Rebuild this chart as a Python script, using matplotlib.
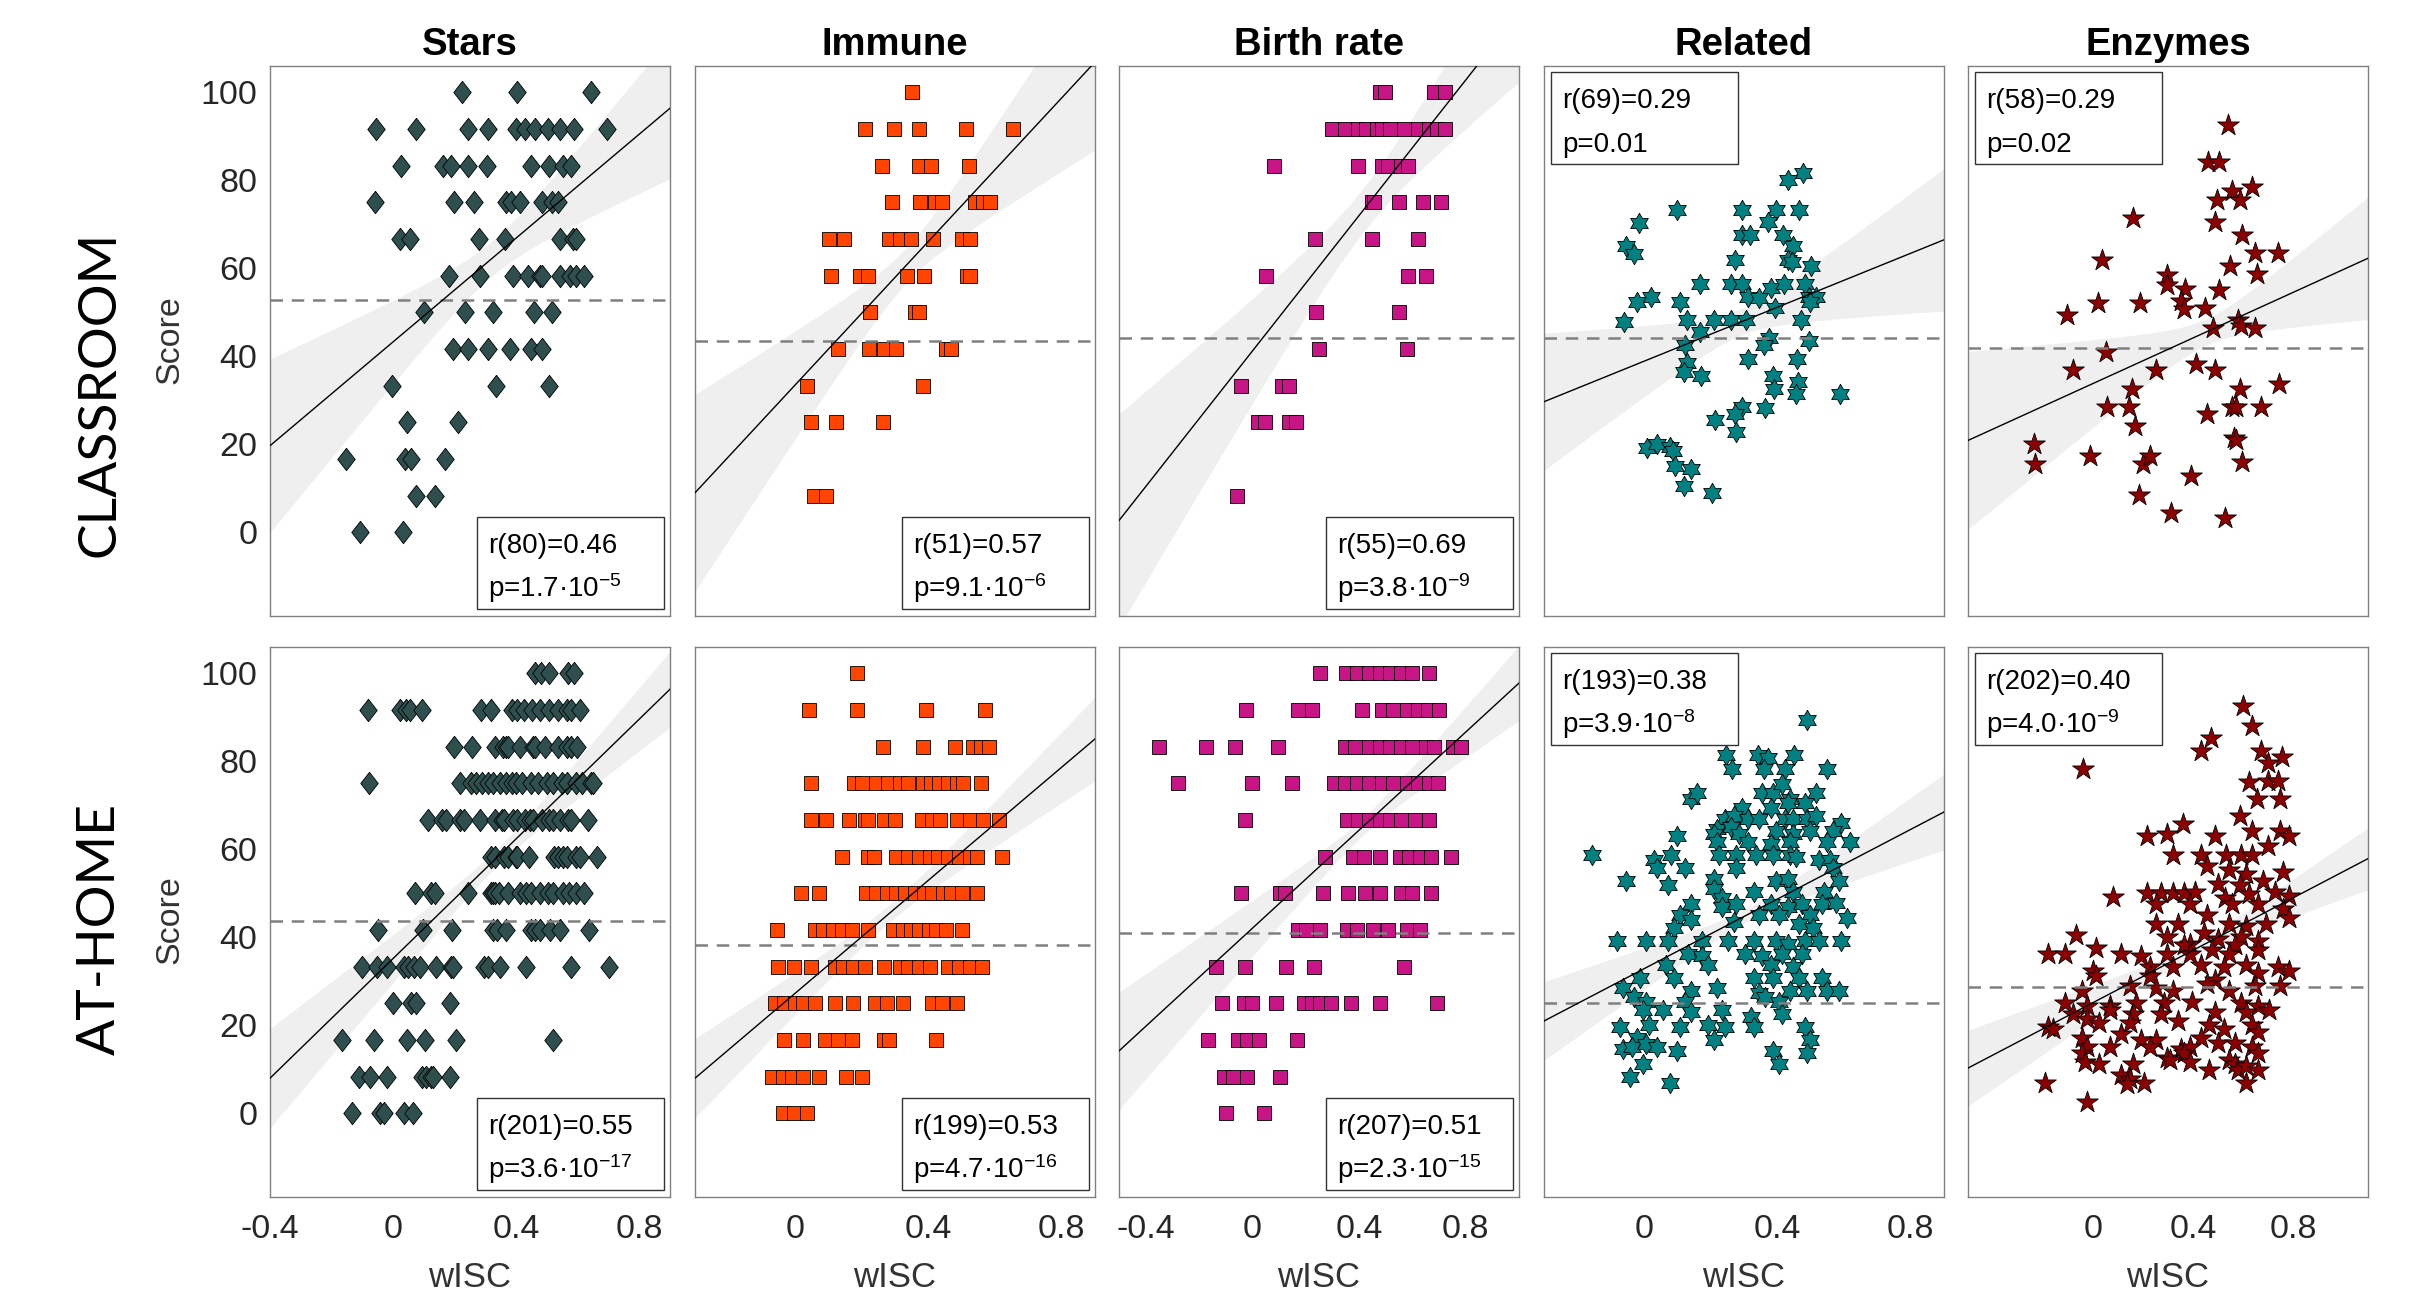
import numpy as np
import matplotlib.pyplot as plt
from matplotlib.patches import Rectangle

plt.rcParams["font.family"] = ["Liberation Sans", "DejaVu Sans"]
plt.rcParams["mathtext.default"] = "regular"

# ------------------------------------------------
# Labels / layout data
# ------------------------------------------------

titles = ["Stars", "Immune", "Birth rate", "Related", "Enzymes"]
row_names = ["CLASSROOM", "AT-HOME"]
colors = ["#2F4F4F", "#FF4500", "#C71585", "#008080", "#8B0000"]

xlims = [(-0.4, 0.9), (-0.3, 0.9), (-0.5, 1.0), (-0.3, 0.9), (-0.5, 1.1)]
xticks = [[-0.4, 0, 0.4, 0.8], [0, 0.4, 0.8], [-0.4, 0, 0.4, 0.8],
          [0, 0.4, 0.8], [0, 0.4, 0.8]]

# score levels used by the quantised tasks
levels = [100, 91.7, 83.3, 75, 66.7, 58.3, 50, 41.7, 33.3, 25, 16.7, 8.3, 0]

# ------------------------------------------------
# Classroom data
# ------------------------------------------------

stars_cls = [
    [0.223, 0.404, 0.643],
    [-0.055, 0.074, 0.245, 0.310, 0.401, 0.430, 0.462, 0.503, 0.543, 0.588, 0.694],
    [0.025, 0.162, 0.187, 0.245, 0.306, 0.448, 0.506, 0.552, 0.578],
    [-0.059, 0.197, 0.262, 0.368, 0.383, 0.412, 0.484, 0.517, 0.535],
    [0.023, 0.054, 0.278, 0.365, 0.542, 0.586, 0.593],
    [0.183, 0.284, 0.39, 0.438, 0.477, 0.484, 0.542, 0.575, 0.593, 0.622],
    [0.1, 0.235, 0.325, 0.459, 0.517],
    [0.194, 0.242, 0.307, 0.38, 0.448, 0.484],
    [-0.004, 0.335, 0.506],
    [0.045, 0.212],
    [-0.154, 0.039, 0.059, 0.168],
    [0.074, 0.136],
    [-0.107, 0.032],
]

immune_cls = [
    [0.351],
    [0.21, 0.296, 0.372, 0.512, 0.653],
    [0.262, 0.372, 0.407, 0.522],
    [0.292, 0.376, 0.42, 0.441, 0.541, 0.565, 0.586],
    [0.102, 0.147, 0.283, 0.315, 0.347, 0.415, 0.501, 0.525],
    [0.108, 0.194, 0.218, 0.336, 0.388, 0.517, 0.525],
    [0.225, 0.359, 0.372],
    [0.129, 0.223, 0.267, 0.302, 0.452, 0.468],
    [0.036, 0.384],
    [0.048, 0.123, 0.263],
    [],
    [0.058, 0.094],
    [],
]

birth_cls = [
    [0.478, 0.498, 0.681, 0.722],
    [0.299, 0.346, 0.396, 0.427, 0.467, 0.488, 0.518, 0.569, 0.62, 0.661, 0.691, 0.722],
    [0.081, 0.396, 0.488, 0.508, 0.559, 0.585],
    [0.447, 0.457, 0.549, 0.64, 0.707],
    [0.234, 0.447, 0.62],
    [0.051, 0.583, 0.65],
    [0.24, 0.551],
    [0.25, 0.579],
    [-0.043, 0.112, 0.136],
    [0.02, 0.047, 0.136, 0.163],
    [],
    [-0.059],
    [],
]

related_cls_x = [0.478, 0.431, 0.099, 0.294, 0.397, 0.465, -0.015, 0.371, 0.294, 0.317,
                 0.417, -0.054, -0.029, 0.448, 0.431, 0.444, 0.272, 0.502, 0.167, 0.26,
                 0.294, 0.380, 0.419, 0.482, 0.022, -0.02, 0.107, 0.311, 0.346, 0.495,
                 0.516, 0.499, 0.393, -0.06, 0.129, 0.209, 0.26, 0.306, 0.470, 0.169,
                 0.124, 0.374, 0.359, 0.495, 0.311, 0.46, 0.129, 0.121, 0.172, 0.388,
                 0.461, 0.391, 0.456, 0.589, 0.294, 0.363, 0.274, 0.213, 0.277, 0.009,
                 0.039, 0.077, 0.087, 0.094, 0.141, 0.121, 0.204]
related_cls_y = [81.6, 80.0, 73.2, 73.2, 73.2, 73.2, 70.3, 70.5, 67.7, 67.5,
                 67.7, 65.0, 63.2, 65.0, 62.0, 61.4, 61.8, 60.5, 56.4, 56.4,
                 56.4, 55.5, 56.4, 56.4, 53.6, 52.3, 52.3, 53.6, 53.2, 53.6,
                 53.6, 52.3, 50.9, 47.9, 48.2, 48.2, 48.2, 48.2, 48.2, 45.5,
                 42.7, 44.1, 42.7, 43.6, 39.5, 39.5, 38.6, 36.4, 35.5, 35.5,
                 34.1, 32.7, 31.4, 31.4, 28.6, 28.2, 26.8, 25.6, 22.9, 19.1,
                 20.0, 19.5, 18.4, 15.0, 14.5, 10.5, 8.9]

enzymes_cls_x = [0.540, 0.458, 0.504, 0.556, 0.636, 0.495, 0.586, 0.159, 0.488, 0.595,
                 0.647, 0.738, 0.034, 0.549, 0.654, 0.295, 0.295, 0.368, 0.504, 0.018,
                 0.186, -0.104, 0.352, 0.363, 0.449, 0.579, 0.590, 0.481, 0.647, 0.05,
                 -0.079, 0.25, 0.413, 0.488, 0.154, 0.586, 0.742, 0.057, 0.143, 0.166,
                 0.454, 0.556, 0.572, 0.670, 0.563, 0.572, -0.238, -0.232, -0.011, 0.2,
                 0.227, 0.595, 0.39, 0.182, 0.311, 0.529]
enzymes_cls_y = [92.5, 84.1, 84.1, 77.5, 78.6, 75.6, 75.6, 71.4, 70.5, 67.5,
                 63.5, 63.5, 61.8, 60.5, 58.8, 58.6, 56.2, 55.3, 55.0, 52.1,
                 52.1, 49.3, 52.7, 50.7, 50.9, 48.2, 46.8, 46.5, 46.5, 40.9,
                 36.8, 36.8, 38.2, 36.8, 32.7, 32.7, 33.8, 28.4, 28.4, 24.1,
                 26.8, 28.4, 28.4, 28.4, 21.5, 21.1, 20.0, 15.6, 17.3, 15.6,
                 17.3, 15.9, 12.9, 8.6, 4.5, 3.2]

# ------------------------------------------------
# At-home data
# ------------------------------------------------

stars_home = [
    [0.462, 0.481, 0.506, 0.567, 0.588],
    [-0.08, 0.023, 0.042, 0.054, 0.093, 0.286, 0.317, 0.387, 0.404, 0.426, 0.451, 0.477,
     0.506, 0.535, 0.564, 0.578, 0.607],
    [0.199, 0.257, 0.332, 0.358, 0.368, 0.375, 0.412, 0.455, 0.462, 0.494, 0.535, 0.564,
     0.578, 0.597],
    [-0.077, 0.216, 0.252, 0.271, 0.288, 0.31, 0.325, 0.346, 0.368, 0.387, 0.401, 0.419,
     0.448, 0.47, 0.499, 0.52, 0.549, 0.564, 0.593, 0.614, 0.643, 0.651],
    [0.112, 0.158, 0.172, 0.216, 0.23, 0.281, 0.332, 0.354, 0.361, 0.39, 0.404, 0.43,
     0.445, 0.455, 0.484, 0.506, 0.52, 0.542, 0.567, 0.578, 0.633],
    [0.317, 0.332, 0.361, 0.375, 0.4, 0.404, 0.441, 0.523, 0.535, 0.552, 0.564, 0.593,
     0.607, 0.662],
    [0.071, 0.122, 0.136, 0.245, 0.317, 0.325, 0.332, 0.343, 0.375, 0.412, 0.433, 0.448,
     0.477, 0.503, 0.52, 0.552, 0.571, 0.596, 0.622],
    [-0.048, 0.096, 0.19, 0.325, 0.339, 0.368, 0.448, 0.462, 0.477, 0.509, 0.542, 0.636],
    [-0.1, -0.052, -0.019, 0.035, 0.049, 0.068, 0.086, 0.141, 0.187, 0.194, 0.296, 0.307,
     0.346, 0.433, 0.578, 0.701],
    [-0.001, 0.059, 0.074, 0.184],
    [-0.165, -0.062, 0.045, 0.103, 0.204, 0.52],
    [-0.11, -0.074, -0.019, 0.093, 0.107, 0.122, 0.129, 0.184],
    [-0.135, -0.042, -0.028, 0.035, 0.064],
]

immune_home = [
    [0.186],
    [0.042, 0.186, 0.393, 0.57],
    [0.265, 0.383, 0.481, 0.533, 0.557, 0.582],
    [0.048, 0.178, 0.202, 0.242, 0.278, 0.315, 0.339, 0.384, 0.407, 0.433, 0.46, 0.485,
     0.504, 0.557],
    [0.048, 0.094, 0.162, 0.21, 0.218, 0.267, 0.299, 0.38, 0.412, 0.436, 0.485, 0.525,
     0.565, 0.611],
    [0.141, 0.218, 0.237, 0.304, 0.339, 0.372, 0.404, 0.428, 0.46, 0.493, 0.525, 0.546,
     0.622],
    [0.019, 0.073, 0.213, 0.242, 0.275, 0.304, 0.331, 0.359, 0.388, 0.412, 0.444, 0.468,
     0.501, 0.546],
    [-0.053, 0.06, 0.084, 0.113, 0.142, 0.17, 0.218, 0.294, 0.323, 0.347, 0.372, 0.401,
     0.423, 0.452, 0.501],
    [-0.052, -0.003, 0.048, 0.121, 0.145, 0.174, 0.21, 0.267, 0.315, 0.339, 0.372, 0.404,
     0.46, 0.493, 0.525, 0.562],
    [-0.061, -0.032, 0.0, 0.024, 0.061, 0.121, 0.174, 0.239, 0.275, 0.323, 0.412, 0.441,
     0.485],
    [-0.032, 0.024, 0.089, 0.129, 0.17, 0.267, 0.283, 0.423],
    [-0.068, -0.036, -0.008, 0.024, 0.073, 0.153, 0.202],
    [-0.037, -0.003, 0.037],
]

birth_home = [
    [0.254, 0.352, 0.392, 0.437, 0.478, 0.518, 0.559, 0.6, 0.661],
    [-0.024, 0.173, 0.224, 0.413, 0.488, 0.528, 0.579, 0.62, 0.657, 0.701],
    [-0.35, -0.173, -0.065, 0.096, 0.346, 0.386, 0.437, 0.478, 0.518, 0.559, 0.6, 0.65,
     0.681, 0.752, 0.783],
    [-0.278, 0.0, 0.148, 0.305, 0.346, 0.392, 0.437, 0.488, 0.528, 0.579, 0.62, 0.661,
     0.697],
    [-0.026, 0.356, 0.396, 0.437, 0.478, 0.518, 0.559, 0.61, 0.661],
    [0.274, 0.376, 0.417, 0.478, 0.555, 0.589, 0.63, 0.671, 0.746],
    [-0.041, 0.102, 0.122, 0.264, 0.36, 0.421, 0.478, 0.559, 0.6, 0.671],
    [0.173, 0.203, 0.254, 0.356, 0.392, 0.453, 0.508, 0.579, 0.63],
    [-0.136, -0.026, 0.128, 0.23, 0.569],
    [-0.112, -0.03, 0.0, 0.087, 0.193, 0.224, 0.254, 0.295, 0.37, 0.478, 0.691],
    [-0.167, -0.055, -0.02, 0.026, 0.167],
    [-0.106, -0.071, -0.02, 0.102],
    [-0.098, 0.045],
]

related_home_x = [0.49, 0.247, 0.264, 0.342, 0.371, 0.359, 0.451, 0.422, 0.55, 0.141,
                  0.158, 0.354, 0.388, 0.414, 0.516, 0.439, 0.294, 0.38, 0.431, 0.482,
                  0.243, 0.269, 0.311, 0.346, 0.422, 0.448, 0.49, 0.516, 0.592, 0.218,
                  0.26, 0.209, 0.286, 0.397, 0.448, 0.499, 0.567, 0.099, 0.618, 0.218,
                  0.311, 0.38, 0.439, 0.55, -0.157, 0.031, 0.082, 0.226, 0.277, 0.337,
                  0.388, 0.439, 0.456, 0.524, 0.558, 0.039, 0.124, 0.277, 0.567, -0.054,
                  0.209, 0.397, 0.431, 0.584, 0.073, 0.209, 0.235, 0.329, 0.448, 0.541,
                  0.141, 0.235, 0.277, 0.38, 0.431, 0.473, 0.533, 0.575, 0.107, 0.141,
                  0.346, 0.405, 0.499, 0.609, 0.09, 0.269, 0.465, 0.507, -0.08, 0.005,
                  0.073, 0.175, 0.252, 0.329, 0.397, 0.431, 0.482, 0.524, 0.592, 0.133,
                  0.175, 0.303, 0.354, 0.414, 0.473, 0.065, 0.192, 0.38, 0.448, -0.012,
                  0.09, 0.329, 0.388, 0.465, 0.533, -0.063, 0.141, 0.218, 0.346, 0.439,
                  0.49, 0.55, 0.584, -0.029, 0.005, 0.124, 0.363, 0.405, -0.003, 0.056,
                  0.141, 0.235, 0.32, 0.414, -0.071, 0.014, 0.107, 0.192, 0.243, 0.329,
                  0.482, -0.02, -0.063, -0.037, 0.005, 0.039, 0.099, 0.209, 0.499, 0.49,
                  0.388, -0.003, 0.405, -0.041, 0.078]
related_home_y = [89.5, 81.4, 78.3, 81.4, 80.7, 78.3, 81.4, 78.3, 78.3, 71.4,
                  72.9, 72.9, 72.9, 74.9, 72.9, 71.4, 69.5, 69.5, 70.5, 70.5,
                  67.0, 67.5, 67.0, 67.0, 67.0, 67.0, 67.0, 67.5, 66.0, 64.6,
                  65.1, 63.6, 63.6, 64.1, 63.6, 64.1, 64.1, 63.1, 61.6, 61.6,
                  61.6, 61.2, 61.6, 61.6, 58.7, 57.7, 58.7, 58.7, 58.7, 58.7,
                  58.7, 58.7, 58.2, 57.7, 57.7, 55.8, 55.8, 55.8, 55.8, 52.8,
                  53.3, 52.8, 53.3, 52.8, 51.9, 50.9, 48.9, 50.4, 50.4, 50.4,
                  47.5, 47.0, 47.5, 47.5, 47.0, 47.5, 47.5, 47.9, 45.0, 44.0,
                  45.0, 45.0, 45.0, 44.5, 42.1, 43.5, 43.1, 42.1, 39.1, 39.1,
                  39.1, 39.1, 39.1, 39.1, 39.1, 38.6, 39.1, 39.1, 39.1, 36.2,
                  35.7, 36.2, 35.7, 36.2, 36.2, 33.8, 33.8, 33.8, 33.3, 30.8,
                  30.8, 30.8, 30.8, 30.8, 30.8, 28.4, 27.9, 28.4, 27.4, 27.9,
                  27.9, 27.9, 27.9, 26.4, 25.4, 25.4, 26.4, 25.4, 23.5, 23.5,
                  23.0, 23.5, 22.0, 22.5, 19.6, 20.1, 19.6, 20.1, 19.6, 19.6,
                  19.6, 17.1, 14.7, 15.2, 15.7, 15.2, 14.2, 16.6, 16.6, 13.7,
                  14.2, 11.3, 11.3, 8.3, 6.8]

enzymes_home_x = [0.601, 0.635, 0.472, 0.431, -0.041, 0.67, 0.754, 0.699, 0.624, 0.699,
                  0.738, 0.654, 0.749, 0.586, 0.359, 0.216, 0.295, 0.635, 0.749, 0.783,
                  0.318, 0.431, 0.488, 0.533, 0.59, 0.635, 0.699, 0.454, 0.545, 0.613,
                  0.76, 0.499, 0.586, 0.681, 0.079, 0.216, 0.272, 0.318, 0.363, 0.409,
                  0.527, 0.624, 0.726, 0.783, 0.25, 0.386, 0.454, 0.556, 0.658, 0.76,
                  0.783, 0.25, 0.34, 0.545, 0.613, 0.692, 0.295, 0.386, 0.443, 0.499,
                  0.59, 0.658, -0.068, 0.363, 0.477, 0.567, -0.182, -0.113, 0.011, 0.113,
                  0.193, 0.295, 0.386, 0.545, 0.658, 0.0, 0.227, 0.318, 0.431, 0.522,
                  0.613, 0.738, 0.783, 0.011, 0.227, 0.488, 0.658, 0.148, 0.25, 0.318,
                  0.454, 0.545, 0.647, 0.749, -0.045, -0.113, -0.023, 0.068, 0.17, 0.284,
                  0.397, 0.59, 0.658, -0.079, 0.068, 0.159, 0.272, 0.488, 0.613, 0.704,
                  -0.182, -0.023, 0.023, 0.148, 0.34, 0.465, 0.635, -0.159, -0.045, 0.113,
                  0.25, 0.431, 0.522, 0.658, -0.023, 0.068, 0.193, 0.227, 0.352, 0.386,
                  0.499, 0.567, 0.635, -0.045, 0.295, 0.363, 0.545, 0.658, -0.034, 0.023,
                  0.159, 0.306, 0.386, 0.567, 0.579, 0.613, 0.658, 0.465, 0.113, 0.148,
                  0.204, 0.136, 0.613, -0.193, -0.023]
enzymes_home_y = [92.5, 88.1, 85.3, 82.4, 78.3, 82.4, 81.0, 79.7, 75.3, 75.5,
                  75.5, 71.4, 71.4, 67.5, 65.8, 63.1, 63.6, 64.1, 64.1, 63.1,
                  58.7, 58.7, 63.1, 58.7, 58.7, 58.7, 60.7, 56.3, 55.3, 54.3,
                  54.8, 52.1, 51.9, 52.8, 49.1, 50.1, 50.1, 50.1, 50.1, 50.4,
                  48.9, 49.9, 50.4, 49.4, 47.5, 47.5, 45.0, 47.5, 47.5, 46.5,
                  44.5, 43.1, 43.1, 43.1, 42.6, 43.1, 40.1, 38.6, 41.1, 39.6,
                  40.1, 39.1, 40.6, 38.2, 37.2, 38.2, 36.2, 36.2, 37.7, 36.2,
                  35.7, 36.2, 36.2, 36.2, 37.2, 32.3, 33.3, 33.3, 33.8, 33.3,
                  33.8, 33.3, 32.3, 31.3, 31.3, 30.3, 31.8, 28.9, 28.4, 27.9,
                  29.4, 27.9, 28.9, 28.9, 27.9, 25.0, 24.5, 24.5, 25.0, 25.0,
                  25.4, 25.0, 24.5, 22.5, 23.5, 22.5, 22.5, 23.0, 23.0, 23.5,
                  19.6, 21.5, 20.5, 20.5, 21.0, 20.1, 20.1, 19.1, 17.1, 18.1,
                  16.6, 17.1, 19.1, 18.6, 15.2, 15.2, 16.6, 15.2, 14.7, 15.2,
                  16.1, 16.1, 15.2, 13.7, 12.7, 13.7, 12.2, 13.7, 11.7, 11.3,
                  11.3, 12.2, 11.7, 11.3, 9.8, 10.8, 9.8, 9.8, 8.8, 7.8,
                  6.8, 6.7, 6.8, 6.8, 2.7]

# ------------------------------------------------
# Fit lines (score at left / right x-limit), CI half-widths, group means
# ------------------------------------------------

fit_cls = [(19.7, 96.4), (9.0, 106.9), (2.7, 118.2), (29.7, 66.5), (20.9, 62.3)]
ci_cls = [(19.3, 15.5, 4.0), (22.0, 19.6, 4.0), (23.7, 15.0, 5.0), (15.3, 15.9, 3.0), (20.0, 13.6, 3.0)]
mean_cls = [52.9, 43.6, 44.1, 44.1, 42.0]

fit_home = [(8.0, 96.4), (8.0, 85.1), (14.2, 97.8), (21.0, 68.5), (10.3, 57.9)]
ci_home = [(11.1, 8.4, 2.0), (8.8, 9.3, 2.0), (13.2, 8.3, 2.0), (8.8, 8.5, 1.5), (8.5, 6.9, 1.5)]
mean_home = [43.7, 38.2, 40.9, 25.0, 28.7]

stats_cls = [("r(80)=0.46", "p=1.7·10$^{-5}$"), ("r(51)=0.57", "p=9.1·10$^{-6}$"),
             ("r(55)=0.69", "p=3.8·10$^{-9}$"), ("r(69)=0.29", "p=0.01"),
             ("r(58)=0.29", "p=0.02")]
stats_home = [("r(201)=0.55", "p=3.6·10$^{-17}$"), ("r(199)=0.53", "p=4.7·10$^{-16}$"),
              ("r(207)=0.51", "p=2.3·10$^{-15}$"), ("r(193)=0.38", "p=3.9·10$^{-8}$"),
              ("r(202)=0.40", "p=4.0·10$^{-9}$")]
box_upper_left = [False, False, False, True, True]


def flatten(rows):
    xs, ys = [], []
    for lev, row in zip(levels, rows):
        xs += row
        ys += [lev] * len(row)
    return xs, ys


cls_points = [flatten(stars_cls), flatten(immune_cls), flatten(birth_cls),
              (related_cls_x, related_cls_y), (enzymes_cls_x, enzymes_cls_y)]
home_points = [flatten(stars_home), flatten(immune_home), flatten(birth_home),
               (related_home_x, related_home_y), (enzymes_home_x, enzymes_home_y)]

# ------------------------------------------------
# Marker shapes
# ------------------------------------------------

diamond = [(0, 1), (0.78, 0), (0, -1), (-0.78, 0), (0, 1)]
ang = np.deg2rad(90 + 30 * np.arange(12))
rad = np.where(np.arange(12) % 2 == 0, 1.0, 1 / np.sqrt(3))
hexagram = list(zip(rad * np.cos(ang), rad * np.sin(ang)))
hexagram.append(hexagram[0])

markers = [diamond, "s", "s", hexagram, "*"]
sizes = [260, 95, 95, 215, 270]

# ------------------------------------------------
# Figure
# ------------------------------------------------

W, H = 2409, 1296
fig = plt.figure(figsize=(W / 100, H / 100), dpi=100)

lefts = [270, 695, 1119, 1544, 1968]
ax_w = 400
row_tops = [66, 647]
ax_h = 550


def draw_panel(ax, j, pts, fit, ci, mean, stats, show_x):
    xl, xr = xlims[j]
    xs = np.linspace(xl, xr, 300)
    yl, yr = fit
    line = yl + (yr - yl) * (xs - xl) / (xr - xl)
    hl, hr, h0 = ci
    k = (hl + hr) / (xr - xl)
    xc = xl + hl / k
    hw = np.sqrt(h0 ** 2 + (k * (xs - xc)) ** 2)
    ax.fill_between(xs, line - hw, line + hw, color="#efefef", lw=0, zorder=1)

    ax.scatter(pts[0], pts[1], s=sizes[j], marker=markers[j], c=colors[j],
               edgecolors="black", linewidths=0.6, zorder=2)

    ax.axhline(mean, color="#808080", lw=1.8, ls=(0, (5, 3.5)), zorder=3)
    ax.plot(xs, line, color="black", lw=1.0, zorder=4)

    ax.set_xlim(xl, xr)
    ax.set_ylim(-19, 106)
    ax.set_yticks([0, 20, 40, 60, 80, 100])
    ax.set_xticks(xticks[j])
    if show_x:
        ax.set_xticklabels(["{:g}".format(t) for t in xticks[j]])
        ax.text(0.5, -0.147, "wISC", transform=ax.transAxes, ha="center",
                va="center", fontsize=25, color="#333333")
    else:
        ax.set_xticklabels([])
    if j == 0:
        ax.set_yticklabels([str(t) for t in [0, 20, 40, 60, 80, 100]])
    else:
        ax.set_yticklabels([])
    ax.tick_params(length=0, labelsize=24.5, labelcolor="#262626")
    ax.tick_params(axis="x", pad=12)
    ax.tick_params(axis="y", pad=9)
    for sp in ax.spines.values():
        sp.set_color("#808080")
        sp.set_linewidth(1.0)

    # stats box
    bw, bh = 187 / ax_w, 92 / ax_h
    if box_upper_left[j]:
        bx, by = 7 / ax_w, 1 - 6 / ax_h - bh
    else:
        bx, by = 1 - 6 / ax_w - bw, 7 / ax_h
    ax.add_patch(Rectangle((bx, by), bw, bh, transform=ax.transAxes,
                           facecolor="white", edgecolor="#333333", lw=1.0, zorder=5))
    tx = bx + 11 / ax_w
    ax.text(tx, by + bh - 36 / ax_h, stats[0], transform=ax.transAxes,
            fontsize=20, va="baseline", ha="left", zorder=6)
    ax.text(tx, by + bh - 80 / ax_h, stats[1], transform=ax.transAxes,
            fontsize=20, va="baseline", ha="left", zorder=6)


for r in range(2):
    for j in range(5):
        ax = fig.add_axes([lefts[j] / W, 1 - (row_tops[r] + ax_h) / H, ax_w / W, ax_h / H])
        if r == 0:
            draw_panel(ax, j, cls_points[j], fit_cls[j], ci_cls[j], mean_cls[j],
                       stats_cls[j], False)
            ax.set_title(titles[j], fontsize=27.5, fontweight="bold", pad=8)
        else:
            draw_panel(ax, j, home_points[j], fit_home[j], ci_home[j], mean_home[j],
                       stats_home[j], True)

# row labels
fig.text(100 / W, 1 - 394 / H, row_names[0], rotation=90, ha="center", va="center",
         fontsize=38.5, family=["Lato", "DejaVu Sans"])
fig.text(100 / W, 1 - 929 / H, row_names[1], rotation=90, ha="center", va="center",
         fontsize=38.5, family=["Lato", "DejaVu Sans"])
fig.text(170 / W, 1 - 340 / H, "Score", rotation=90, ha="center", va="center",
         fontsize=24.5, color="#333333")
fig.text(170 / W, 1 - 920 / H, "Score", rotation=90, ha="center", va="center",
         fontsize=24.5, color="#333333")

fig.savefig("out.png", dpi=100)
